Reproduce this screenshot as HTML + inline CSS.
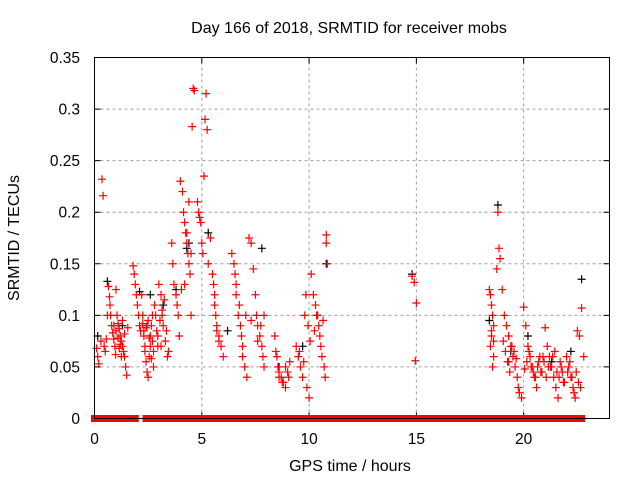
<!DOCTYPE html>
<html><head><meta charset="utf-8"><style>
body{margin:0;background:#fff;}
svg{display:block;font-family:"Liberation Sans",sans-serif;}
</style></head><body>
<svg id="chart" width="640" height="480" viewBox="0 0 640 480">
<g id="grid"></g>
<g id="axes"></g>
<g id="pts"></g>
<rect x="94.5" y="57.5" width="515" height="361" fill="none" stroke="#000" stroke-width="1"/>
<text x="349" y="33" font-size="16" text-anchor="middle">Day 166 of 2018, SRMTID for receiver mobs</text>
<text x="350" y="471" font-size="16" text-anchor="middle">GPS time / hours</text>
<text transform="translate(19,238) rotate(-90)" font-size="16" text-anchor="middle">SRMTID / TECUs</text>
</svg>
<script>
const xTicks=[0,5,10,15,20];
const yTicks=[0,0.05,0.1,0.15,0.2,0.25,0.3,0.35];
const yTickLabels=["0","0.05","0.1","0.15","0.2","0.25","0.3","0.35"];
const zeroRanges=[[0,1.9],[2.4,2.6],[2.8,10.8],[10.9,22.7]];
const blackHours=[0.15,0.6,1.3,2.1,2.6,3.2,3.8,4.3,4.4,5.3,6.2,7.8,8.6,9.7,10.8,14.8,18.4,18.8,19.4,20.2,21.3,22.2,22.7];
const blackValues=[0.08,0.133,0.09,0.123,0.12,0.11,0.125,0.165,0.17,0.18,0.085,0.165,0.05,0.07,0.15,0.14,0.095,0.207,0.065,0.08,0.055,0.065,0.135];
const redHours=[0.35,0.4,0.1,0.15,0.2,0.3,0.45,0.5,0.55,0.6,
0.65,0.7,0.72,0.75,0.8,0.85,0.9,0.95,0.98,
1.0,1.05,1.1,1.15,1.2,1.25,1.3,1.35,1.4,1.45,1.5,1.55,
1.8,1.85,1.9,1.95,2.0,2.05,2.1,
2.2,2.25,2.3,2.35,2.4,2.45,2.5,2.55,2.6,2.65,2.7,2.75,2.8,2.85,2.9,2.95,
3.0,3.1,3.15,3.2,3.3,3.4,3.45,
3.6,3.65,3.7,3.8,3.85,3.9,3.95,
4.0,4.1,4.15,4.2,4.25,4.3,4.35,4.4,4.45,4.5,4.55,4.6,4.65,
4.8,4.85,4.9,4.95,5.0,5.05,5.1,5.15,5.2,5.25,5.3,
5.4,5.5,5.55,5.6,5.65,5.7,5.8,5.9,6.0,
6.4,6.5,6.55,6.6,6.7,6.8,6.85,6.9,7.0,7.1,
7.2,7.3,7.4,7.5,7.55,7.6,7.7,7.8,7.85,7.9,
8.4,8.5,8.55,8.6,8.7,8.8,8.9,9.0,9.1,
9.4,9.5,9.6,9.7,9.8,9.85,9.9,10.0,
10.1,10.2,10.3,10.4,10.45,10.5,10.6,10.7,10.75,10.8,10.8,10.85,
14.8,14.9,15.0,14.95,
18.4,18.45,18.5,18.55,18.6,18.5,18.45,18.6,18.55,18.8,18.85,18.9,18.75,
19.0,19.1,19.2,19.3,19.4,19.5,19.6,19.7,19.8,19.9,19.3,19.55,
20.0,20.1,20.2,20.3,20.4,20.5,20.6,20.7,20.8,20.9,
21.0,21.1,21.2,21.3,21.4,21.5,21.6,21.7,21.8,21.9,21.45,21.15,
22.0,22.1,22.2,22.3,22.4,22.5,22.6,22.7,22.8,22.35,22.55,
0.9,1.0,1.1,1.2,1.3,1.4,1.25,1.15,
2.15,2.25,2.3,2.4,2.5,2.55,2.6,2.7,2.35,2.45,2.65,2.75,
3.05,3.15,3.25,3.35,2.95,3.1,
4.05,4.2,4.3,4.4,4.5,
5.6,5.7,5.8,6.6,6.75,6.9,7.05,7.3,7.6,7.75,7.9,
8.45,8.6,8.75,8.9,9.05,9.55,9.75,9.95,10.05,10.25,10.35,10.55,10.65,
18.5,18.6,19.05,19.15,19.25,19.35,19.45,19.65,19.75,
20.05,20.15,20.25,20.35,20.45,20.55,20.65,20.75,20.85,20.95,
21.05,21.25,21.35,21.55,21.65,21.75,21.85,22.05,22.15,22.25,22.45,22.65];
const redValues=[0.232,0.216,0.068,0.06,0.053,0.075,0.07,0.065,0.077,0.1,
0.128,0.118,0.11,0.1,0.09,0.083,0.077,0.07,0.062,
0.125,0.1,0.092,0.087,0.08,0.075,0.07,0.065,0.06,0.05,0.042,0.088,
0.148,0.14,0.13,0.12,0.11,0.1,0.09,
0.12,0.1,0.085,0.07,0.055,0.045,0.04,0.06,0.08,0.09,0.075,0.065,0.11,0.1,0.085,0.07,
0.13,0.12,0.1,0.09,0.075,0.06,0.065,
0.17,0.15,0.13,0.12,0.11,0.1,0.08,
0.23,0.22,0.2,0.19,0.18,0.17,0.16,0.15,0.14,0.1,0.283,0.32,0.318,
0.21,0.2,0.195,0.19,0.17,0.16,0.235,0.29,0.315,0.28,0.15,
0.175,0.14,0.13,0.12,0.1,0.09,0.08,0.07,0.06,
0.16,0.15,0.14,0.12,0.1,0.09,0.08,0.06,0.05,0.04,
0.175,0.17,0.145,0.12,0.1,0.09,0.08,0.07,0.06,0.05,
0.08,0.06,0.05,0.045,0.04,0.035,0.03,0.045,0.055,
0.07,0.06,0.05,0.04,0.1,0.12,0.03,0.02,
0.14,0.12,0.11,0.1,0.09,0.08,0.06,0.05,0.04,0.178,0.17,0.15,
0.138,0.132,0.112,0.056,
0.125,0.12,0.11,0.1,0.09,0.08,0.07,0.06,0.05,0.2,0.165,0.155,0.145,
0.125,0.1,0.09,0.08,0.07,0.06,0.05,0.04,0.025,0.02,0.055,0.065,
0.108,0.09,0.07,0.06,0.05,0.04,0.03,0.055,0.045,0.06,
0.088,0.07,0.06,0.05,0.04,0.03,0.02,0.055,0.045,0.035,0.065,0.05,
0.06,0.05,0.04,0.03,0.02,0.085,0.08,0.107,0.06,0.025,0.035,
0.09,0.085,0.078,0.072,0.095,0.082,0.06,0.068,
0.085,0.092,0.08,0.088,0.095,0.078,0.07,0.1,0.065,0.09,0.058,0.05,
0.095,0.105,0.115,0.085,0.08,0.07,
0.125,0.13,0.18,0.21,0.16,
0.11,0.085,0.075,0.13,0.11,0.07,0.1,0.095,0.075,0.09,0.1,
0.065,0.04,0.035,0.05,0.04,0.065,0.055,0.09,0.075,0.085,0.1,0.07,0.095,
0.085,0.075,0.075,0.065,0.055,0.045,0.07,0.058,0.03,0.048,
0.055,0.065,0.05,0.045,0.04,0.05,0.06,0.045,0.055,0.04,
0.05,0.06,0.045,0.04,0.05,0.035,0.045,0.055,0.04,0.045,0.03,0.05];
const NS="http://www.w3.org/2000/svg";
const X0=94.5,X1=609.5,Y0=418.5,Y1=57.5,XMAX=24,YMAX=0.35;
function xs(h){return X0+(X1-X0)*h/XMAX;}
function ys(v){return Y0-(Y0-Y1)*v/YMAX;}
function mk(tag,attrs){const e=document.createElementNS(NS,tag);for(const k in attrs)e.setAttribute(k,attrs[k]);return e;}
const grid=document.getElementById('grid'),axes=document.getElementById('axes'),pts=document.getElementById('pts');
yTicks.forEach((t,i)=>{
 const y=ys(t);
 if(i>0&&i<yTicks.length-1){const g=mk('line',{x1:X0,x2:X1,y1:y,y2:y,stroke:'#a0a0a0','stroke-dasharray':'3,3'});
 
 grid.appendChild(g);}
 const tk=mk('path',{d:`M${X0},${y}h6M${X1},${y}h-6`,stroke:'#000'});
 
 axes.appendChild(tk);
 const tx=mk('text',{x:80,y:y+5.5,'font-size':15.5,'text-anchor':'end'});tx.textContent=yTickLabels[i];
 
 axes.appendChild(tx);
});
xTicks.forEach(t=>{
 const x=xs(t);
 if(t>0){const g=mk('line',{x1:x,x2:x,y1:Y0,y2:Y1,stroke:'#a0a0a0','stroke-dasharray':'3,3'});
 
 grid.appendChild(g);}
 const tk=mk('path',{d:`M${x},${Y0}v-6M${x},${Y1}v6`,stroke:'#000'});
 
 axes.appendChild(tk);
 const tx=mk('text',{x:x,y:444,'font-size':15.5,'text-anchor':'middle'});tx.textContent=String(t);
 
 axes.appendChild(tx);
});
function cross(h,v,color,name){
 const x=xs(h),y=ys(v);
 const p=mk('path',{d:`M${x-4},${y}h8M${x},${y-4}v8`,stroke:color,'stroke-width':1.2});
 
 
 pts.appendChild(p);
}
blackHours.forEach((h,i)=>cross(h,blackValues[i],'#000','black-point'));
zeroRanges.forEach(r=>{
 const x0=xs(r[0])-3.5,x1=xs(r[1])+3.5,y=ys(0);
 const b=mk('rect',{x:x0,y:y-3.5,width:x1-x0,height:7,fill:'#f00'});
 
 
 pts.appendChild(b);
});
redHours.forEach((h,i)=>cross(h,redValues[i],'#f00','red-point'));
</script>
</body></html>
